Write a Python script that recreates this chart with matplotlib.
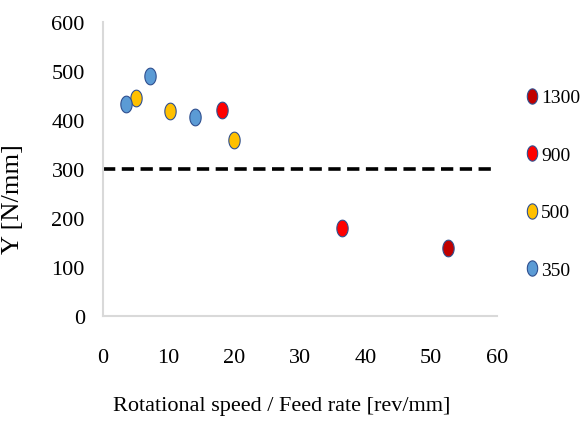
import numpy as np
import matplotlib
matplotlib.use("Agg")
import matplotlib.pyplot as plt
from matplotlib.path import Path
from matplotlib.lines import Line2D

plt.rcParams["font.family"] = ["Liberation Serif", "DejaVu Serif"]

# ── Data: Y vs. rotational speed / feed rate, grouped by rotational speed ────
speed_groups = ["1300", "900", "500", "350"]
ratio_1300 = [52.5]
y_1300 = [139]
ratio_900 = [18.1, 36.4]
y_900 = [420, 180]
ratio_500 = [5.0, 10.2, 20.0]
y_500 = [445, 418, 359]
ratio_350 = [3.5, 7.2, 14.0]
y_350 = [433, 490, 406]

threshold_y = 300

x_ticks = [0, 10, 20, 30, 40, 50, 60]
y_ticks = [0, 100, 200, 300, 400, 500, 600]

colors = {"1300": "#C00000", "900": "#FF0000", "500": "#FFC000", "350": "#5B9BD5"}
edge = "#2F4F8F"

# slightly tall ellipse marker
t = np.linspace(0, 2 * np.pi, 60)
oval = Path(np.column_stack([0.68 * np.cos(t), np.sin(t)]), closed=True)

fig = plt.figure(figsize=(5.81, 4.27), dpi=100)
ax = fig.add_axes([0.177, 0.258, 0.678, 0.688])

series = [
    ("1300", ratio_1300, y_1300),
    ("900", ratio_900, y_900),
    ("500", ratio_500, y_500),
    ("350", ratio_350, y_350),
]
for name, xs, ys in series:
    ax.plot(xs, ys, linestyle="none", marker=oval, markersize=12,
            markerfacecolor=colors[name], markeredgecolor=edge,
            markeredgewidth=0.8, zorder=3)

ax.axhline(threshold_y, color="black", linewidth=2.6, dashes=(3.4, 1.8), zorder=2)

ax.set_xlim(0, 60)
ax.set_ylim(0, 600)
ax.set_xticks(x_ticks)
ax.set_yticks(y_ticks)
ax.tick_params(length=0, labelsize=16)
ax.tick_params(axis="x", pad=23)
ax.tick_params(axis="y", pad=13)

for side in ("top", "right"):
    ax.spines[side].set_visible(False)
for side in ("left", "bottom"):
    ax.spines[side].set_color("#D9D9D9")
    ax.spines[side].set_linewidth(1.5)

ax.set_xlabel("Rotational speed / Feed rate [rev/mm]", fontsize=16)
ax.xaxis.set_label_coords(0.455, -0.272)
ax.set_ylabel("Y [N/mm]", fontsize=19)
ax.yaxis.set_label_coords(-0.2, 0.40)

handles = [Line2D([], [], linestyle="none", marker=oval, markersize=11,
                  markerfacecolor=colors[n], markeredgecolor=edge,
                  markeredgewidth=0.8) for n in speed_groups]
fig.legend(handles, speed_groups, loc="center left",
           bbox_to_anchor=(0.893, 0.567), frameon=False, fontsize=14,
           handlelength=0.6, handletextpad=0.15, labelspacing=2.05,
           borderaxespad=0)

fig.savefig("out.png", dpi=100)
